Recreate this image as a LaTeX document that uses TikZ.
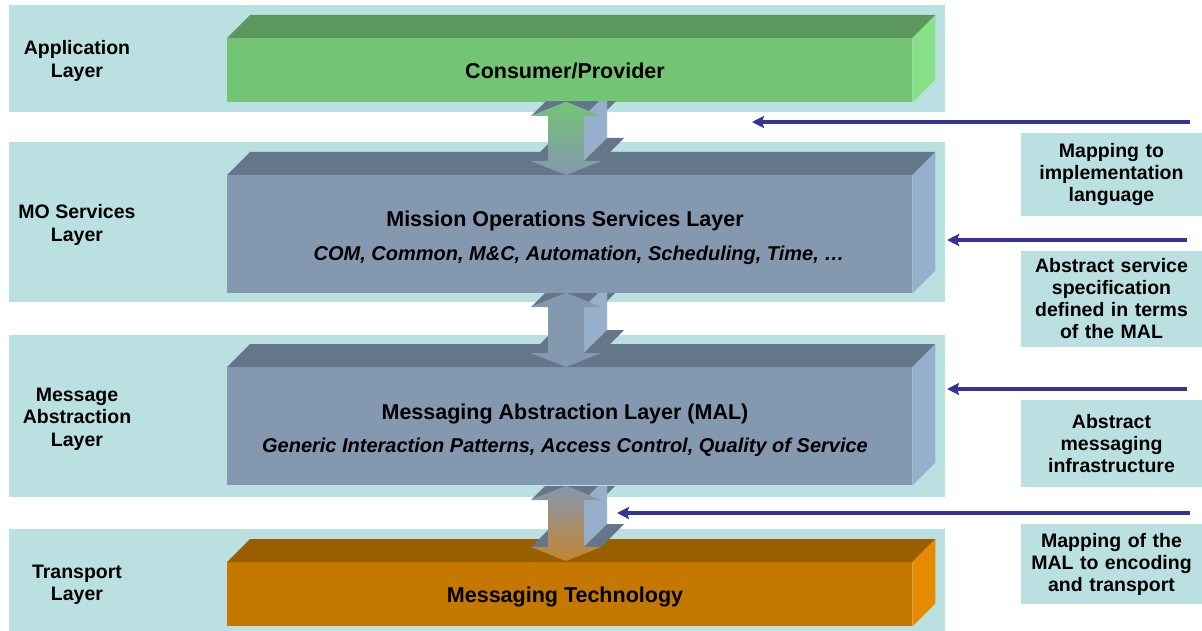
\documentclass[tikz,border=0pt]{standalone}
\usepackage{fontspec}
\setmainfont{Liberation Sans}
\usetikzlibrary{arrows.meta}
\definecolor{tealbg}{RGB}{186,224,226}
\definecolor{gfront}{RGB}{116,196,118}
\definecolor{gtop}{RGB}{92,152,94}
\definecolor{gright}{RGB}{136,224,136}
\definecolor{bfront}{RGB}{132,152,176}
\definecolor{btop}{RGB}{100,118,138}
\definecolor{bright}{RGB}{150,176,204}
\definecolor{ofront}{RGB}{196,120,0}
\definecolor{otop}{RGB}{152,94,0}
\definecolor{oright}{RGB}{230,138,0}
\definecolor{aorange}{RGB}{196,132,50}
\definecolor{navy}{RGB}{51,51,153}
\tikzset{
  layerbg/.style={fill=tealbg, draw=none},
  layerlbl/.style={font=\fontsize{19.5}{22.5}\selectfont\bfseries, align=center, inner sep=0pt},
  notebox/.style={fill=tealbg, draw=none, minimum width=181pt, text width=178pt, align=center,
     font=\fontsize{19.5}{22}\selectfont\bfseries, inner sep=0pt},
  frontface/.style={minimum width=685pt, inner sep=0pt, anchor=north west},
  titletext/.style={font=\fontsize{21.5}{26}\selectfont\bfseries, inner sep=0pt},
  subtext/.style={font=\fontsize{20}{24}\selectfont\bfseries\itshape, inner sep=0pt},
  maparrow/.style={draw=navy, line width=3.5pt, -{Stealth[length=12pt,width=12pt,inset=2pt]}},
}
% top/right faces of a cuboid whose front face is node #1
\newcommand\mycuboid[3]{%
  \fill[#2] (#1.north west) -- ++(23,-23) -- ([shift={(23,-23)}]#1.north east) -- (#1.north east) -- cycle;
  \fill[#3] (#1.north east) -- ++(23,-23) -- ([shift={(23,-23)}]#1.south east) -- (#1.south east) -- cycle;
}
% extruded double arrow: #1 cx, #2 top tip y, #3 bottom tip y, #4 top colour, #5 bottom colour
\newcommand\myvarrow[5]{%
  \begin{scope}
    \clip (0,#2) rectangle (1202,631);
    \fill[btop] (#1-35,#2+14) -- (#1,#2) -- (#1+23,#2-23) -- (#1-12,#2-9) -- cycle;
    \fill[btop] (#1,#2) -- (#1+35,#2+14) -- (#1+58,#2-9) -- (#1+23,#2-23) -- cycle;
    \fill[bright] (#1+18,#2+14) -- (#1+18,#3-14) -- (#1+41,#3-37) -- (#1+41,#2-9) -- cycle;
    \fill[btop] (#1-35,#3-14) -- (#1-18,#3-14) -- (#1+5,#3-37) -- (#1-12,#3-37) -- cycle;
    \fill[btop] (#1+18,#3-14) -- (#1+35,#3-14) -- (#1+58,#3-37) -- (#1+41,#3-37) -- cycle;
  \end{scope}
  \shade[top color=#4, bottom color=#5]
    (#1,#2) -- (#1+35,#2+14) -- (#1+18,#2+14) -- (#1+18,#3-14) -- (#1+35,#3-14) -- (#1,#3)
    -- (#1-35,#3-14) -- (#1-18,#3-14) -- (#1-18,#2+14) -- (#1-35,#2+14) -- cycle;
}
\begin{document}
\begin{tikzpicture}[x=1pt,y=-1pt]
\useasboundingbox (0,0) rectangle (1202,631);
\fill[white] (0,0) rectangle (1202,631);
% layer backgrounds
\fill[layerbg] (9,5) rectangle (945,112);
\fill[layerbg] (9,142) rectangle (945,302);
\fill[layerbg] (9,335) rectangle (945,497);
\fill[layerbg] (9,529) rectangle (945,631);
% layer labels
\node[layerlbl] (lapp) at (77,61) {Application\\Layer};
\node[layerlbl] (lmo) at (77,225) {MO Services\\Layer};
\node[layerlbl] (lmal) at (77,419) {Message\\Abstraction\\Layer};
\node[layerlbl] (ltr) at (77,585) {Transport\\Layer};
% cuboids
\node[frontface, fill=gfront, minimum height=64pt] (app) at (227,38) {};
\mycuboid{app}{gtop}{gright}
\node[frontface, fill=bfront, minimum height=118pt] (mos) at (227,175) {};
\mycuboid{mos}{btop}{bright}
\node[frontface, fill=bfront, minimum height=118pt] (mal) at (227,367) {};
\mycuboid{mal}{btop}{bright}
\node[frontface, fill=ofront, minimum height=64pt] (tec) at (227,562) {};
\mycuboid{tec}{otop}{oright}
% vertical double arrows
\myvarrow{566}{102}{175}{gfront}{bfront}
\myvarrow{566}{293}{367}{bfront}{bfront}
\myvarrow{566}{486}{561}{bfront}{aorange}
% box texts
\node[titletext] (t1) at (565,71) {Consumer/Provider};
\node[titletext] (t2) at (565,221) {Mission Operations Services Layer};
\node[subtext] (s2) at (579,255) {COM, Common, M\&C, Automation, Scheduling, Time, …};
\node[titletext] (t3) at (565,414) {Messaging Abstraction Layer (MAL)};
\node[subtext] (s3) at (565,447) {Generic Interaction Patterns, Access Control, Quality of Service};
\node[titletext] (t4) at (565,597) {Messaging Technology};
% notes
\node[notebox, minimum height=83pt] (n1) at (1111.5,174.5) {Mapping to\\implementation\\language};
\node[notebox, minimum height=96pt] (n2) at (1111.5,299) {Abstract service\\specification\\defined in terms\\of the MAL};
\node[notebox, minimum height=87pt] (n3) at (1111.5,443.5) {Abstract\\messaging\\infrastructure};
\node[notebox, minimum height=80pt] (n4) at (1111.5,564) {Mapping of the\\MAL to encoding\\and transport};
% mapping arrows
\coordinate (h1s) at (1190,122); \coordinate (h1e) at (752,122);
\coordinate (h2s) at (1187,240); \coordinate (h2e) at (947,240);
\coordinate (h3s) at (1187,389); \coordinate (h3e) at (947,389);
\coordinate (h4s) at (1190,513); \coordinate (h4e) at (617,513);
\draw[maparrow] (h1s) -- (h1e);
\draw[maparrow] (h2s) -- (h2e);
\draw[maparrow] (h3s) -- (h3e);
\draw[maparrow] (h4s) -- (h4e);
\end{tikzpicture}
\end{document}
